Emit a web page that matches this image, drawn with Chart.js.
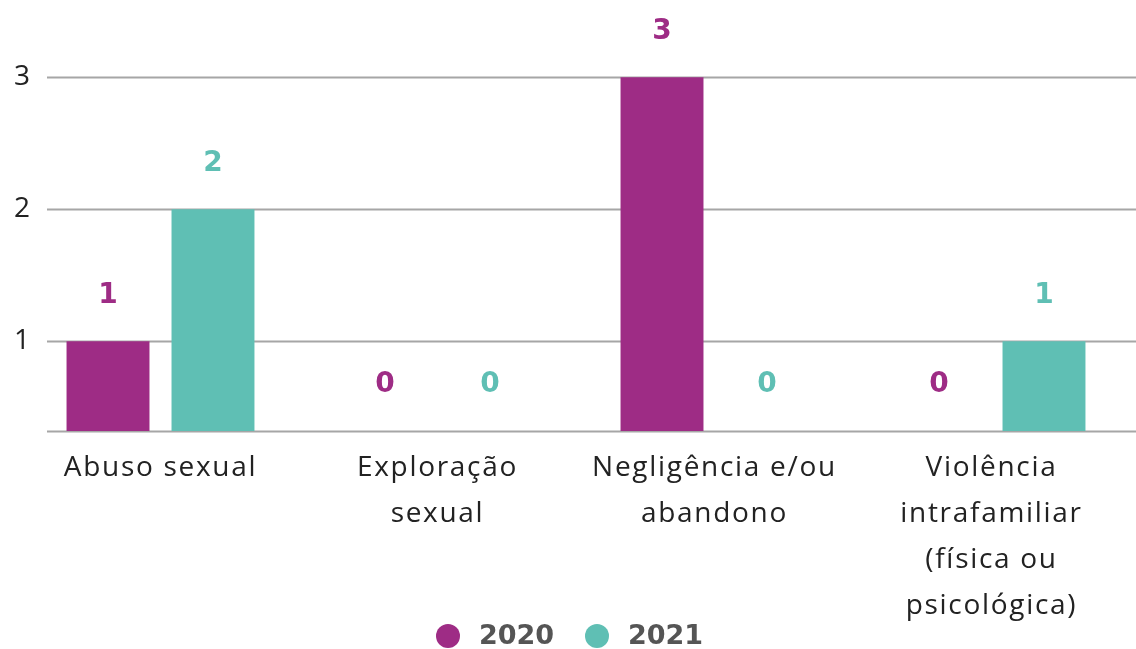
<!DOCTYPE html>
<html>
<head>
<meta charset="utf-8">
<script src="https://cdn.jsdelivr.net/npm/chart.js@4"></script>
<style>
  html, body { margin: 0; padding: 0; background: #fff; }
  #wrap { width: 1136px; height: 649px; }
</style>
</head>
<body>
<div id="wrap"><canvas id="chart" width="1136" height="649"></canvas></div>
<script>
// data
var categories = [
    ['Abuso sexual'],
    ['Exploração', 'sexual'],
    ['Negligência e/ou', 'abandono'],
    ['Violência', 'intrafamiliar', '(física ou', 'psicológica)']
];
var years = ['2020', '2021'];
var values2020 = [1, 0, 3, 0];
var values2021 = [2, 0, 0, 1];
var yTicks = [1, 2, 3];

var purple = '#9E2C85';
var teal = '#5FBFB4';
var fontFamily = '"Open Sans", sans-serif';
var boldFamily = '"DejaVu Sans", sans-serif';

// gridlines, y labels, value labels and legend drawn by hand
var extras = {
    id: 'extras',
    beforeDraw: function(chart) {
        // the source font is wide, so spread the axis labels a bit
        chart.ctx.letterSpacing = '1.7px';
    },
    beforeDatasetsDraw: function(chart) {
        var ctx = chart.ctx;
        var y = chart.scales.y;
        ctx.letterSpacing = '0px';
        ctx.save();
        ctx.strokeStyle = '#a6a6a6';
        ctx.lineWidth = 2;
        var lines = [y.min].concat(yTicks);
        lines.forEach(function(v) {
            var py = Math.round(y.getPixelForValue(v)) + 0.5;
            ctx.beginPath();
            ctx.moveTo(47, py);
            ctx.lineTo(chart.width, py);
            ctx.stroke();
        });
        ctx.fillStyle = '#222';
        ctx.font = '400 28px ' + fontFamily;
        ctx.textAlign = 'right';
        ctx.textBaseline = 'middle';
        yTicks.forEach(function(v) {
            ctx.fillText(String(v), 30, y.getPixelForValue(v));
        });
        ctx.restore();
    },
    afterDatasetsDraw: function(chart) {
        var ctx = chart.ctx;
        var y = chart.scales.y;
        ctx.save();
        ctx.font = 'bold 28px ' + boldFamily;
        ctx.textAlign = 'center';
        ctx.textBaseline = 'middle';
        chart.data.datasets.forEach(function(ds, i) {
            var meta = chart.getDatasetMeta(i);
            ctx.fillStyle = ds.backgroundColor;
            meta.data.forEach(function(bar, j) {
                var v = ds.data[j];
                var top = v > y.min ? bar.y : y.getPixelForValue(y.min);
                ctx.fillText(String(v), bar.x, top - 46);
            });
        });
        // legend
        var items = [
            { x: 448, color: purple, text: years[0] },
            { x: 597, color: teal, text: years[1] }
        ];
        ctx.font = 'bold 27px ' + boldFamily;
        ctx.textAlign = 'left';
        items.forEach(function(it) {
            ctx.fillStyle = it.color;
            ctx.beginPath();
            ctx.arc(it.x, 636, 12, 0, Math.PI * 2);
            ctx.fill();
            ctx.fillStyle = '#555';
            ctx.fillText(it.text, it.x + 31, 637);
        });
        ctx.restore();
    }
};

new Chart(document.getElementById('chart'), {
    type: 'bar',
    data: {
        labels: categories,
        datasets: [{
            label: years[0],
            data: values2020,
            backgroundColor: purple,
            barPercentage: 0.79,
            categoryPercentage: 0.758
        }, {
            label: years[1],
            data: values2021,
            backgroundColor: teal,
            barPercentage: 0.79,
            categoryPercentage: 0.758
        }]
    },
    options: {
        responsive: false,
        animation: false,
        layout: { padding: { left: 22, right: 6, top: 0, bottom: 0 } },
        plugins: {
            legend: { display: false },
            tooltip: { enabled: false }
        },
        scales: {
            x: {
                grid: { display: false, drawTicks: false },
                border: { display: false },
                ticks: {
                    color: '#222',
                    padding: 14,
                    maxRotation: 0,
                    autoSkip: false,
                    font: { family: fontFamily, size: 28, lineHeight: 1.643 }
                },
                afterFit: function(scale) { scale.height = 218; }
            },
            y: {
                display: false,
                min: 0.32,
                max: 3.585
            }
        }
    },
    plugins: [extras]
});
</script>
</body>
</html>
